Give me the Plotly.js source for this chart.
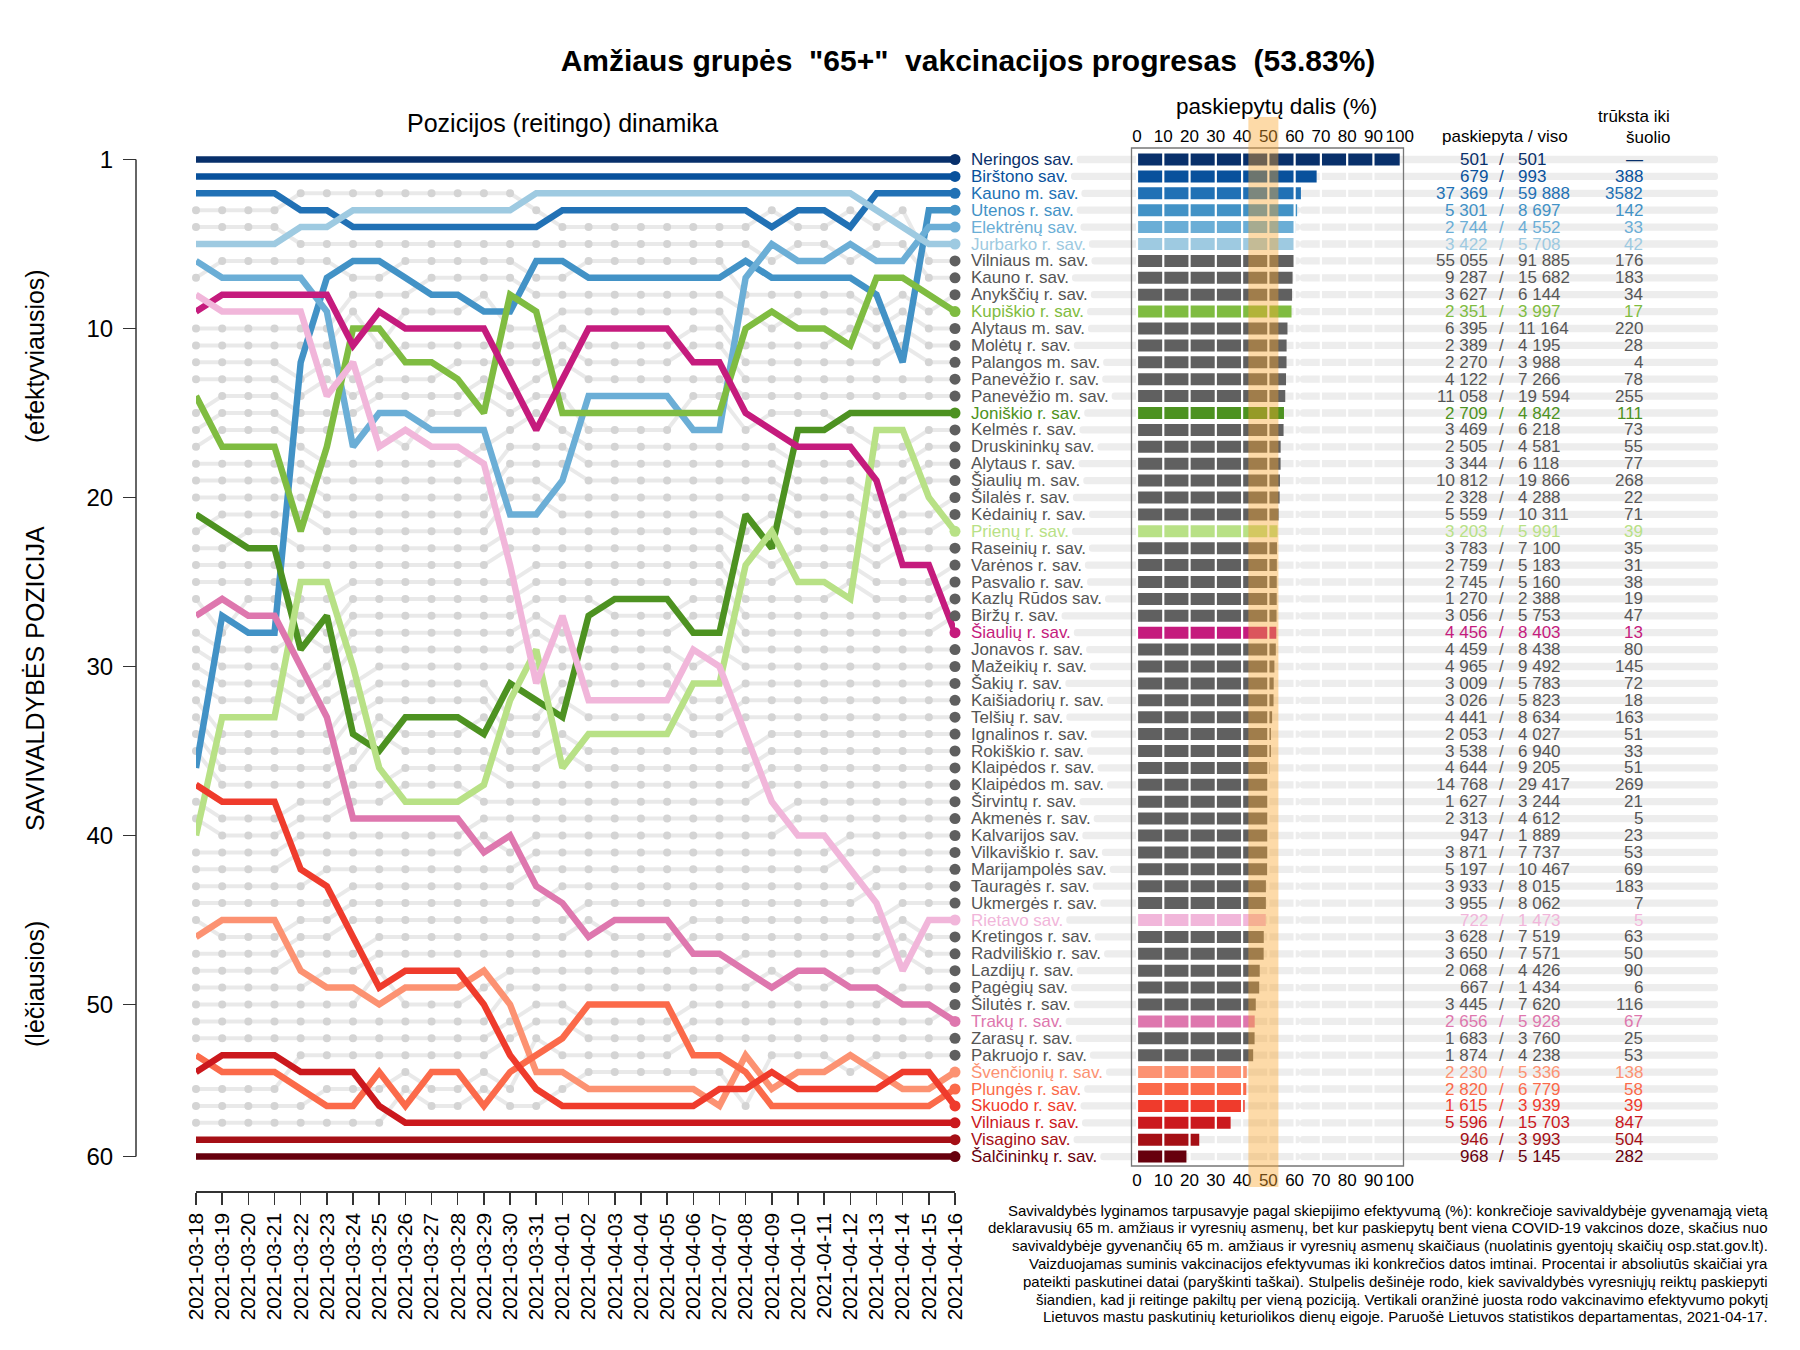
<!DOCTYPE html>
<html><head><meta charset="utf-8">
<script src="https://cdn.plot.ly/plotly-3.0.1.min.js"></script>
<style>html,body{margin:0;padding:0;background:#fff}#chart{width:1800px;height:1350px}</style>
</head><body><div id="chart"></div>
<script>
// ---------------- DATA ----------------
const dates = ['2021-03-18','2021-03-19','2021-03-20','2021-03-21','2021-03-22','2021-03-23','2021-03-24','2021-03-25','2021-03-26','2021-03-27','2021-03-28','2021-03-29','2021-03-30','2021-03-31','2021-04-01','2021-04-02','2021-04-03','2021-04-04','2021-04-05','2021-04-06','2021-04-07','2021-04-08','2021-04-09','2021-04-10','2021-04-11','2021-04-12','2021-04-13','2021-04-14','2021-04-15','2021-04-16'];

// municipalities in final ranking order (2021-04-16)
const municipalities = ['Neringos sav.','Birštono sav.','Kauno m. sav.','Utenos r. sav.','Elektrėnų sav.','Jurbarko r. sav.','Vilniaus m. sav.','Kauno r. sav.','Anykščių r. sav.','Kupiškio r. sav.','Alytaus m. sav.','Molėtų r. sav.','Palangos m. sav.','Panevėžio r. sav.','Panevėžio m. sav.','Joniškio r. sav.','Kelmės r. sav.','Druskininkų sav.','Alytaus r. sav.','Šiaulių m. sav.','Šilalės r. sav.','Kėdainių r. sav.','Prienų r. sav.','Raseinių r. sav.','Varėnos r. sav.','Pasvalio r. sav.','Kazlų Rūdos sav.','Biržų r. sav.','Šiaulių r. sav.','Jonavos r. sav.','Mažeikių r. sav.','Šakių r. sav.','Kaišiadorių r. sav.','Telšių r. sav.','Ignalinos r. sav.','Rokiškio r. sav.','Klaipėdos r. sav.','Klaipėdos m. sav.','Širvintų r. sav.','Akmenės r. sav.','Kalvarijos sav.','Vilkaviškio r. sav.','Marijampolės sav.','Tauragės r. sav.','Ukmergės r. sav.','Rietavo sav.','Kretingos r. sav.','Radviliškio r. sav.','Lazdijų r. sav.','Pagėgių sav.','Šilutės r. sav.','Trakų r. sav.','Zarasų r. sav.','Pakruojo r. sav.','Švenčionių r. sav.','Plungės r. sav.','Skuodo r. sav.','Vilniaus r. sav.','Visagino sav.','Šalčininkų r. sav.'];

const vaccinated = [501,679,37369,5301,2744,3422,55055,9287,3627,2351,6395,2389,2270,4122,11058,2709,3469,2505,3344,10812,2328,5559,3203,3783,2759,2745,1270,3056,4456,4459,4965,3009,3026,4441,2053,3538,4644,14768,1627,2313,947,3871,5197,3933,3955,722,3628,3650,2068,667,3445,2656,1683,1874,2230,2820,1615,5596,946,968];
const population = [501,993,59888,8697,4552,5708,91885,15682,6144,3997,11164,4195,3988,7266,19594,4842,6218,4581,6118,19866,4288,10311,5991,7100,5183,5160,2388,5753,8403,8438,9492,5783,5823,8634,4027,6940,9205,29417,3244,4612,1889,7737,10467,8015,8062,1473,7519,7571,4426,1434,7620,5928,3760,4238,5336,6779,3939,15703,3993,5145];
const shortfall = [null,388,3582,142,33,42,176,183,34,17,220,28,4,78,255,111,73,55,77,268,22,71,39,35,31,38,19,47,13,80,145,72,18,163,51,33,51,269,21,5,23,53,69,183,7,5,63,50,90,6,116,67,25,53,138,58,39,847,504,282];

// Lithuania-wide efficiency 14 days ago and now (orange band), %
const bandFrom = 42.4;
const bandTo = 53.83;

// rank trajectories of highlighted municipalities (one value per date)
const rankNeringos    = [1,1,1,1,1,1,1,1,1,1,1,1,1,1,1,1,1,1,1,1,1,1,1,1,1,1,1,1,1,1];
const rankBirstono    = [2,2,2,2,2,2,2,2,2,2,2,2,2,2,2,2,2,2,2,2,2,2,2,2,2,2,2,2,2,2];
const rankKaunoM      = [3,3,3,3,4,4,5,5,5,5,5,5,5,5,4,4,4,4,4,4,4,4,5,4,4,5,3,3,3,3];
const rankUtenos      = [37,28,29,29,13,8,7,7,8,9,9,10,10,7,7,8,8,8,8,8,8,7,8,8,8,8,9,13,4,4];
const rankElektrenu   = [7,8,8,8,8,10,18,16,16,17,17,17,22,22,20,15,15,15,15,17,17,8,6,7,7,6,7,7,5,5];
const rankJurbarko    = [6,6,6,6,5,5,4,4,4,4,4,4,4,3,3,3,3,3,3,3,3,3,3,3,3,3,4,5,6,6];
const rankKupiskio    = [15,18,18,18,23,18,11,11,13,13,14,16,9,10,16,16,16,16,16,16,16,11,10,11,11,12,8,8,9,10];
const rankJoniskio    = [22,23,24,24,30,28,35,36,34,34,34,35,32,33,34,28,27,27,27,29,29,22,24,17,17,16,16,16,16,16];
const rankPrienu      = [41,34,34,34,26,26,31,37,39,39,39,38,33,30,37,35,35,35,35,32,32,25,23,26,26,27,17,17,21,23];
const rankSiauliuR    = [10,9,9,9,9,9,12,10,11,11,11,11,14,17,14,11,11,11,11,13,13,16,17,18,18,18,20,25,25,29];
const rankRietavo     = [9,10,10,10,10,15,13,18,17,18,18,19,25,32,28,33,33,33,33,30,31,35,39,41,41,43,45,49,46,46];
const rankTraku       = [28,27,28,28,31,34,40,40,40,40,40,42,41,44,45,47,46,46,46,48,48,49,50,49,49,50,50,51,51,52];
const rankSvencioniu  = [47,46,46,46,49,50,50,51,50,50,50,49,51,55,55,56,56,56,56,56,57,54,56,55,55,54,55,56,56,55];
const rankPlunges     = [54,55,55,55,56,57,57,55,57,55,55,57,55,54,53,51,51,51,51,54,54,55,57,57,57,57,57,57,57,56];
const rankSkuodo      = [38,39,39,39,43,44,47,50,49,49,49,51,54,56,57,57,57,57,57,57,56,56,55,56,56,56,56,55,55,57];
const rankVilniausR   = [55,54,54,54,55,55,55,57,58,58,58,58,58,58,58,58,58,58,58,58,58,58,58,58,58,58,58,58,58,58];
const rankVisagino    = [59,59,59,59,59,59,59,59,59,59,59,59,59,59,59,59,59,59,59,59,59,59,59,59,59,59,59,59,59,59];
const rankSalcininku  = [60,60,60,60,60,60,60,60,60,60,60,60,60,60,60,60,60,60,60,60,60,60,60,60,60,60,60,60,60,60];

const highlightNames  = ['Neringos sav.','Birštono sav.','Kauno m. sav.','Utenos r. sav.','Elektrėnų sav.','Jurbarko r. sav.','Kupiškio r. sav.','Joniškio r. sav.','Prienų r. sav.','Šiaulių r. sav.','Rietavo sav.','Trakų r. sav.','Švenčionių r. sav.','Plungės r. sav.','Skuodo r. sav.','Vilniaus r. sav.','Visagino sav.','Šalčininkų r. sav.'];
const highlightColors = ['#08306b','#08519c','#2171b5','#4292c6','#6baed6','#9ecae1','#7fbc41','#4d9221','#b8e186','#c51b7d','#f1b6da','#de77ae','#fc9272','#fb6a4a','#ef3b2c','#cb181d','#a50f15','#67000d'];
const highlightRanks  = [rankNeringos,rankBirstono,rankKaunoM,rankUtenos,rankElektrenu,rankJurbarko,rankKupiskio,rankJoniskio,rankPrienu,rankSiauliuR,rankRietavo,rankTraku,rankSvencioniu,rankPlunges,rankSkuodo,rankVilniausR,rankVisagino,rankSalcininku];

const footnote = [
 'Savivaldybės lyginamos tarpusavyje pagal skiepijimo efektyvumą (%): konkrečioje savivaldybėje gyvenamąją vietą',
 'deklaravusių 65 m. amžiaus ir vyresnių asmenų, bet kur paskiepytų bent viena COVID-19 vakcinos doze, skačius nuo',
 'savivaldybėje gyvenančių 65 m. amžiaus ir vyresnių asmenų skaičiaus (nuolatinis gyentojų skaičių osp.stat.gov.lt).',
 'Vaizduojamas suminis vakcinacijos efektyvumas iki konkrečios datos imtinai. Procentai ir absoliutūs skaičiai yra',
 'pateikti paskutinei datai (paryškinti taškai). Stulpelis dešinėje rodo, kiek savivaldybės vyresniųjų reiktų paskiepyti',
 'šiandien, kad ji reitinge pakiltų per vieną poziciją. Vertikali oranžinė juosta rodo vakcinavimo efektyvumo pokytį',
 'Lietuvos mastu paskutinių keturiolikos dienų eigoje. Paruošė Lietuvos statistikos departamentas, 2021-04-17.'
];

// ---------------- LAYOUT GEOMETRY (pixels) ----------------
const W = 1800, H = 1350;
const FONT = 'Liberation Sans, Arial, sans-serif';
const px2x = p => p / W;
const py2y = p => 1 - p / H;
const ROW1 = 159.5, ROWSTEP = 16.9;             // rank 1 row and row spacing
const rankAtPx = py => 1 + (py - ROW1) / ROWSTEP;
const BAR0 = 1137, PXPCT = 2.627;                // pixel of 0 % and pixels per %
const pct = px => (px - BAR0) / PXPCT;
const AXIS_Y = 1191;

const GREY_TEXT = '#555555', GREY_DOT = '#5f5f5f', GREY_BAR = '#606060';

// colours per municipality
const colorOf = {};
highlightNames.forEach((n, i) => colorOf[n] = highlightColors[i]);
const rowColor = municipalities.map(n => colorOf[n] || GREY_BAR);
const textColor = municipalities.map(n => colorOf[n] || GREY_TEXT);
const dotColor = municipalities.map(n => colorOf[n] || GREY_DOT);

// grey (non-highlighted) municipalities take the remaining rank slots of each date
const greyNames = municipalities.filter(n => !colorOf[n]);
const greyRanks = greyNames.map(() => []);
dates.forEach((d, di) => {
  const used = new Set(highlightRanks.map(r => r[di]));
  const free = [];
  for (let r = 1; r <= municipalities.length; r++) if (!used.has(r)) free.push(r);
  greyNames.forEach((n, gi) => greyRanks[gi][di] = free[gi]);
});

const idx = dates.map((d, i) => i);
const rows = municipalities.map((n, i) => i + 1);
const share = vaccinated.map((v, i) => v / population[i] * 100);
const fmt = n => String(n).replace(/\B(?=(\d{3})+(?!\d))/g, ' ');

// measure name widths for the grey row bands
const ctx = document.createElement('canvas').getContext('2d');
ctx.font = "17px 'Liberation Sans'";
const NAME_X = 969;
const bandStart = municipalities.map(n => pct(NAME_X + ctx.measureText(n).width + 5));
const bandEnd = pct(1718);
const bandMid = pct(1300);

// ---------------- TRACES ----------------
const traces = [];
greyNames.forEach((n, gi) => traces.push({
  x: idx, y: greyRanks[gi], xaxis: 'x', yaxis: 'y', mode: 'lines+markers', cliponaxis: false,
  line: {color: 'rgba(0,0,0,0.085)', width: 4}, marker: {color: '#d4d4d4', size: 8},
  hoverinfo: 'skip', showlegend: false
}));
highlightNames.forEach((n, i) => traces.push({
  x: idx, y: highlightRanks[i], xaxis: 'x', yaxis: 'y', mode: 'lines', cliponaxis: false,
  line: {color: highlightColors[i], width: 6.5}, hoverinfo: 'skip', showlegend: false
}));
traces.push({
  x: rows.map(() => idx[idx.length - 1]), y: rows, xaxis: 'x', yaxis: 'y', mode: 'markers', cliponaxis: false,
  marker: {color: dotColor, size: 11}, hoverinfo: 'skip', showlegend: false
});
// grey row bands (two halves so that both ends are rounded)
traces.push({
  type: 'bar', orientation: 'h', y: rows, x: bandStart.map(s => s - bandMid), base: bandMid,
  xaxis: 'x2', yaxis: 'y2', width: 0.43, marker: {color: '#ededed', cornerradius: 4, line: {width: 0}},
  hoverinfo: 'skip', showlegend: false
});
traces.push({
  type: 'bar', orientation: 'h', y: rows, x: rows.map(() => bandEnd - bandMid), base: bandMid,
  xaxis: 'x2', yaxis: 'y2', width: 0.43, marker: {color: '#ededed', cornerradius: 4, line: {width: 0}},
  hoverinfo: 'skip', showlegend: false
});
// vaccination share bars
traces.push({
  type: 'bar', orientation: 'h', y: rows, x: share, base: 0,
  xaxis: 'x2', yaxis: 'y2', width: 0.71, marker: {color: rowColor, line: {width: 0}},
  hoverinfo: 'skip', showlegend: false
});
traces.push({x: [0], y: [1], xaxis: 'x3', yaxis: 'y2', mode: 'markers', marker: {opacity: 0}, hoverinfo: 'skip', showlegend: false});

// ---------------- ANNOTATIONS ----------------
const ann = [];
const T = (text, x, y, o) => Object.assign({text, x, y, xref: 'paper', yref: 'paper', showarrow: false,
  xanchor: 'center', yanchor: 'middle', font: {family: FONT, size: 17, color: '#000'}}, o || {});
municipalities.forEach((n, i) => {
  const c = textColor[i], f = {family: FONT, size: 17, color: c};
  const base = {xref: 'x2', yref: 'y2', y: i + 1, showarrow: false, yanchor: 'middle', font: f};
  ann.push(Object.assign({}, base, {text: n, x: pct(NAME_X), xanchor: 'left'}));
  ann.push(Object.assign({}, base, {text: fmt(vaccinated[i]), x: pct(1490), xanchor: 'right'}));
  ann.push(Object.assign({}, base, {text: '/', x: pct(1501), xanchor: 'center'}));
  ann.push(Object.assign({}, base, {text: fmt(population[i]), x: pct(1516), xanchor: 'left'}));
  ann.push(Object.assign({}, base, {text: shortfall[i] === null ? '—' : String(shortfall[i]), x: pct(1645), xanchor: 'right'}));
});
const big = s => ({family: FONT, size: s, color: '#000'});
ann.push(T('Pozicijos (reitingo) dinamika', px2x(562), py2y(123), {font: big(25)}));
ann.push(T('paskiepytų dalis (%)', px2x(1276), py2y(107), {font: big(22.5)}));
ann.push(T('paskiepyta / viso', px2x(1505), py2y(136)));
ann.push(T('trūksta iki', px2x(1672), py2y(116), {xanchor: 'right'}));
ann.push(T('šuolio', px2x(1672), py2y(137), {xanchor: 'right'}));
ann.push(T('SAVIVALDYBĖS POZICIJA', px2x(35), py2y(679), {textangle: -90, font: big(25)}));
ann.push(T('(efektyviausios)', px2x(35), py2y(356), {textangle: -90, font: big(25)}));
ann.push(T('(lėčiausios)', px2x(35), py2y(984), {textangle: -90, font: big(25)}));
footnote.forEach((line, i) => ann.push(T(line, px2x(1770), py2y(1210 + i * 17.8),
  {xanchor: 'right', font: big(15)})));

// ---------------- SHAPES ----------------
const shapes = [];
shapes.push({type: 'line', xref: 'paper', yref: 'y', x0: px2x(136), x1: px2x(136), y0: 1, y1: 60,
  line: {color: '#333', width: 1.5}});
for (let v = 0; v <= 90; v += 10) shapes.push({type: 'line', xref: 'x2', yref: 'paper', x0: v, x1: v,
  y0: py2y(1166), y1: py2y(148), line: {color: '#fff', width: 2.2}});
shapes.push({type: 'rect', xref: 'x2', yref: 'paper', x0: pct(1131.5), x1: pct(1403.5), y0: py2y(1166), y1: py2y(148),
  line: {color: '#777', width: 1.3}, fillcolor: 'rgba(0,0,0,0)'});
shapes.push({type: 'rect', xref: 'x2', yref: 'paper', x0: bandFrom, x1: bandTo, y0: py2y(1187), y1: py2y(117),
  line: {width: 0}, fillcolor: 'rgba(250,168,48,0.42)'});

// ---------------- LAYOUT ----------------
const pctTicks = [0,10,20,30,40,50,60,70,80,90,100];
const layout = {
  width: W, height: H, margin: {l: 0, r: 0, t: 0, b: 0},
  paper_bgcolor: '#fff', plot_bgcolor: 'rgba(0,0,0,0)', showlegend: false, hovermode: false,
  barmode: 'overlay', font: {family: FONT, color: '#000'},
  title: {text: '<b>Amžiaus grupės\u00a0 "65+"\u00a0 vakcinacijos progresas\u00a0 (53.83%)</b>',
    x: px2x(968), xanchor: 'center', xref: 'paper', y: py2y(60), yanchor: 'middle', yref: 'paper',
    font: {family: FONT, size: 30, color: '#000'}},
  xaxis: {domain: [px2x(196), px2x(955)], range: [0, 29], anchor: 'y', tickvals: idx, ticktext: dates,
    tickangle: -90, ticks: 'outside', ticklen: 12, tickwidth: 1.5, tickcolor: '#333',
    showline: true, linecolor: '#333', linewidth: 1.5, showgrid: false, zeroline: false,
    tickfont: {family: FONT, size: 21, color: '#000'}, ticklabelstandoff: 0},
  yaxis: {domain: [py2y(AXIS_Y), py2y(140)], range: [rankAtPx(AXIS_Y), rankAtPx(140)], anchor: 'free', position: px2x(136),
    tickvals: [1,11,21,31,41,51,60], ticktext: ['1','10','20','30','40','50','60'],
    ticks: 'outside', ticklen: 13, tickwidth: 1.5, tickcolor: '#333', showline: false, showgrid: false, zeroline: false,
    tickfont: {family: FONT, size: 24, color: '#000'}, ticklabelstandoff: 5},
  xaxis2: {domain: [px2x(960), px2x(1740)], range: [pct(960), pct(1740)], anchor: 'y2', tickvals: pctTicks,
    ticks: '', showline: false, showgrid: false, zeroline: false, tickfont: {family: FONT, size: 17, color: '#000'},
    ticklabelstandoff: 2},
  xaxis3: {domain: [px2x(960), px2x(1740)], range: [pct(960), pct(1740)], anchor: 'y2', overlaying: 'x2', side: 'top',
    tickvals: pctTicks, ticks: '', showline: false, showgrid: false, zeroline: false,
    tickfont: {family: FONT, size: 17, color: '#000'}, ticklabelstandoff: 2},
  yaxis2: {domain: [py2y(1166), py2y(148)], range: [rankAtPx(1166), rankAtPx(148)], anchor: 'x2', visible: false},
  annotations: ann, shapes: shapes
};

Plotly.newPlot('chart', traces, layout, {staticPlot: true, displayModeBar: false});
</script>
</body></html>
